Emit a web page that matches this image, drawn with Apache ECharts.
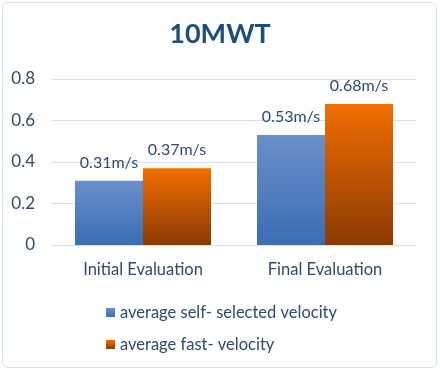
<!DOCTYPE html>
<html><head><meta charset="utf-8">
<script src="https://cdn.jsdelivr.net/npm/echarts@6/dist/echarts.min.js"></script>
<style>html,body{margin:0;padding:0;background:#fff}#c{width:440px;height:371px}
#frame{position:absolute;left:2px;top:2px;width:433px;height:364px;border:1px solid #D6E3F3;border-radius:6px;pointer-events:none}</style>
</head><body><div id="c"></div><div id="frame"></div>
<script>
const categories = ["Initial Evaluation", "Final Evaluation"];
const selfSelected = [0.31, 0.53];
const fastVelocity = [0.37, 0.68];
const seriesNames = ["average self- selected velocity", "average fast- velocity"];
const yTicks = [0, 0.2, 0.4, 0.6, 0.8];

const txt = '#2E4A70';
const font = 'Lato';
const chart = echarts.init(document.getElementById('c'));
const blueGrad = new echarts.graphic.LinearGradient(0,0,0,1,[{offset:0,color:'#6A90C9'},{offset:1,color:'#3A6DB3'}]);
const orangeGrad = new echarts.graphic.LinearGradient(0,0,0,1,[{offset:0,color:'#F26E00'},{offset:1,color:'#8A3A05'}]);
const lbl = {show:true, position:'top', distance:10, color:txt, fontFamily:font, fontSize:16,
  formatter: p => p.value.toFixed(2) + 'm/s'};
chart.setOption({
  animation:false,
  title:{text:'10MWT', left:'center', top:16, textStyle:{color:'#1F4E79', fontFamily:font, fontWeight:'bold', fontSize:27}},
  grid:{left:52, right:24, top:79, bottom:126, containLabel:false},
  xAxis:{type:'category', data:categories,
    axisLine:{lineStyle:{color:'#D6E0EE'}}, axisTick:{show:false},
    axisLabel:{color:txt, fontFamily:font, fontSize:16.5, margin:16}},
  yAxis:{type:'value', min:0, max:0.8, interval:0.2,
    axisLabel:{color:txt, fontFamily:font, fontSize:17, margin:17, formatter:v=>String(+v.toFixed(1))},
    splitLine:{lineStyle:{color:'#D6E0EE'}}},
  legend:{orient:'vertical', left:101, top:299, itemGap:15, itemWidth:9, itemHeight:9,
    icon:'rect', textStyle:{color:txt, fontFamily:font, fontSize:16.5}},
  series:[
    {name:seriesNames[0], type:'bar', data:selfSelected, barWidth:68, barGap:'0%',
      itemStyle:{color:blueGrad}, label:lbl},
    {name:seriesNames[1], type:'bar', data:fastVelocity, barWidth:68,
      itemStyle:{color:orangeGrad}, label:lbl}
  ]
});
</script></body></html>
